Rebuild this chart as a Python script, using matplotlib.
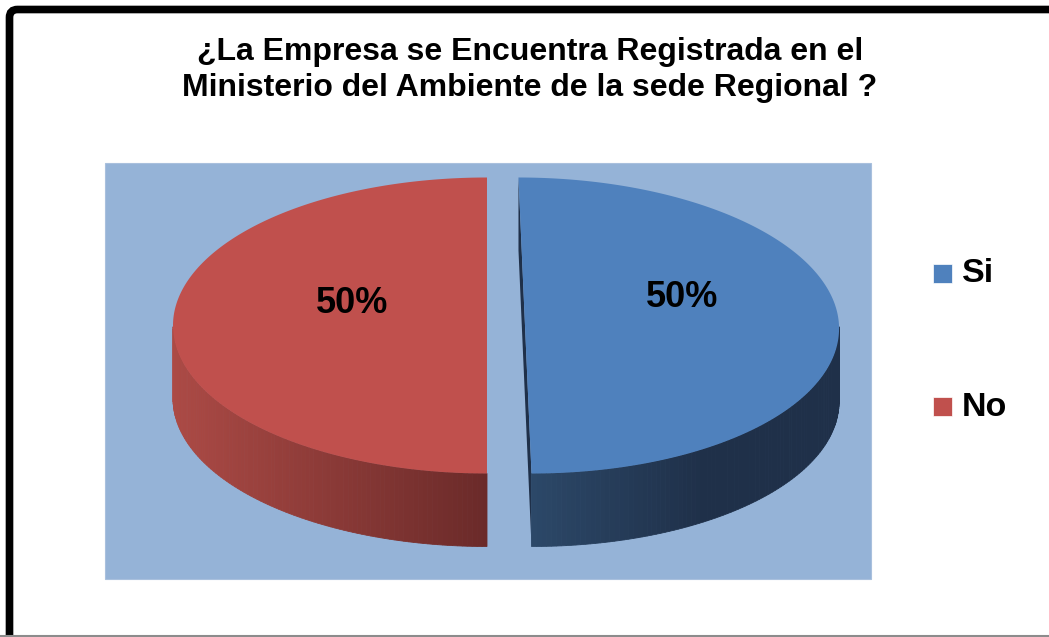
import numpy as np
import matplotlib.pyplot as plt
from matplotlib.patches import Polygon, Rectangle, FancyBboxPatch
from matplotlib.colors import to_rgb

# data
labels = ['Si', 'No']
values = [50, 50]
top_colors = ['#4F81BD', '#C0504D']
side_light = ['#2C4868', '#AC4A45']
side_dark = ['#1F3049', '#6A2A29']
title = '¿La Empresa se Encuentra Registrada en el\nMinisterio del Ambiente de la sede Regional ?'

plt.rcParams['font.family'] = ['Liberation Sans', 'DejaVu Sans']

fig = plt.figure(figsize=(10.49, 6.37), dpi=100)
ax = fig.add_axes([0, 0, 1, 1])
ax.set_xlim(0, 1049)
ax.set_ylim(637, 0)
ax.axis('off')

# outer frame (cut off at right / bottom like the screenshot)
ax.add_patch(FancyBboxPatch((9.5, 9.5), 1100, 700, boxstyle='round,pad=0,rounding_size=8',
                            fc='white', ec='black', lw=5.5, zorder=0))
ax.plot([0, 1049], [636, 636], color='#8C8C8C', lw=1.5, zorder=1)

# plot area
ax.add_patch(Rectangle((105, 163), 766, 416, fc='#95B3D7', ec='#A9C0DD', lw=0.8, zorder=1))

# pie geometry (pixels)
cx, cy, a, b, depth = 503, 325.5, 314, 148, 73
shift = [22, 16]
skew = [0.044, 0.0]
label_r = [0.5, 0.43]
label_dy = [-28, -22]

fr = np.array(values, dtype=float) / sum(values)
start = 90.0
for i, f in enumerate(fr):
    t0 = start
    t1 = start - 360 * f
    start = t1
    mid = np.radians((t0 + t1) / 2)
    ox = cx + shift[i] * np.cos(mid)
    oy = cy - shift[i] * np.sin(mid) * b / a

    def pt(t, dz=0.0):
        x = ox + a * np.cos(t)
        y = oy - b * np.sin(t) + dz
        return x + skew[i] * (y - dz - cy), y

    ts = np.radians(np.linspace(t0, t1, 200))

    # flat cut face
    p_a = pt(np.radians(t0)); p_b = pt(np.radians(t1)); p_c = (ox, oy)
    face = [p_a, p_c, p_b, (p_b[0], p_b[1] + depth), (p_c[0], p_c[1] + depth), (p_a[0], p_a[1] + depth)]
    ax.add_patch(Polygon(face, closed=True, fc=side_dark[i], ec='none', zorder=2))

    # outer wall, only the front part
    vis = ts[np.sin(ts) <= 1e-9]
    if len(vis) > 1:
        lo, hi = np.array(to_rgb(side_light[i])), np.array(to_rgb(side_dark[i]))
        xs = [pt(t)[0] for t in vis]
        xmin, xmax = min(xs), max(xs)
        for k in range(len(vis) - 1):
            q0, q1 = pt(vis[k]), pt(vis[k + 1])
            u = ((q0[0] + q1[0]) / 2 - xmin) / (xmax - xmin)
            if i == 0:
                u = min(1.0, u * 1.8)
            col = lo + (hi - lo) * u
            quad = [q0, q1, (q1[0], q1[1] + depth), (q0[0], q0[1] + depth)]
            ax.add_patch(Polygon(quad, closed=True, fc=col, ec=col, lw=0.6, zorder=3))

    # top face
    top = [pt(t) for t in ts] + [p_c]
    ax.add_patch(Polygon(top, closed=True, fc=top_colors[i], ec='none', zorder=4))

    # percentage label
    lx = ox + label_r[i] * a * np.cos(mid)
    ly = cy + label_dy[i]
    ax.text(lx, ly, f'{f * 100:.0f}%', ha='center', va='center', fontsize=26,
            fontweight='bold', color='black', zorder=5)

# legend
leg_y = [273, 406]
for i, lab in enumerate(labels):
    ax.add_patch(Rectangle((933, leg_y[i] - 9.5), 19, 19, fc=top_colors[i], ec='white', lw=0.5, zorder=5))
    ax.text(962, leg_y[i] + 1, lab, ha='left', va='center', fontsize=24.5, fontweight='bold', zorder=5)

ax.text(530, 70, title, ha='center', va='center', fontsize=23, fontweight='bold',
        linespacing=1.3, zorder=5)

fig.savefig('out.png', dpi=100)
